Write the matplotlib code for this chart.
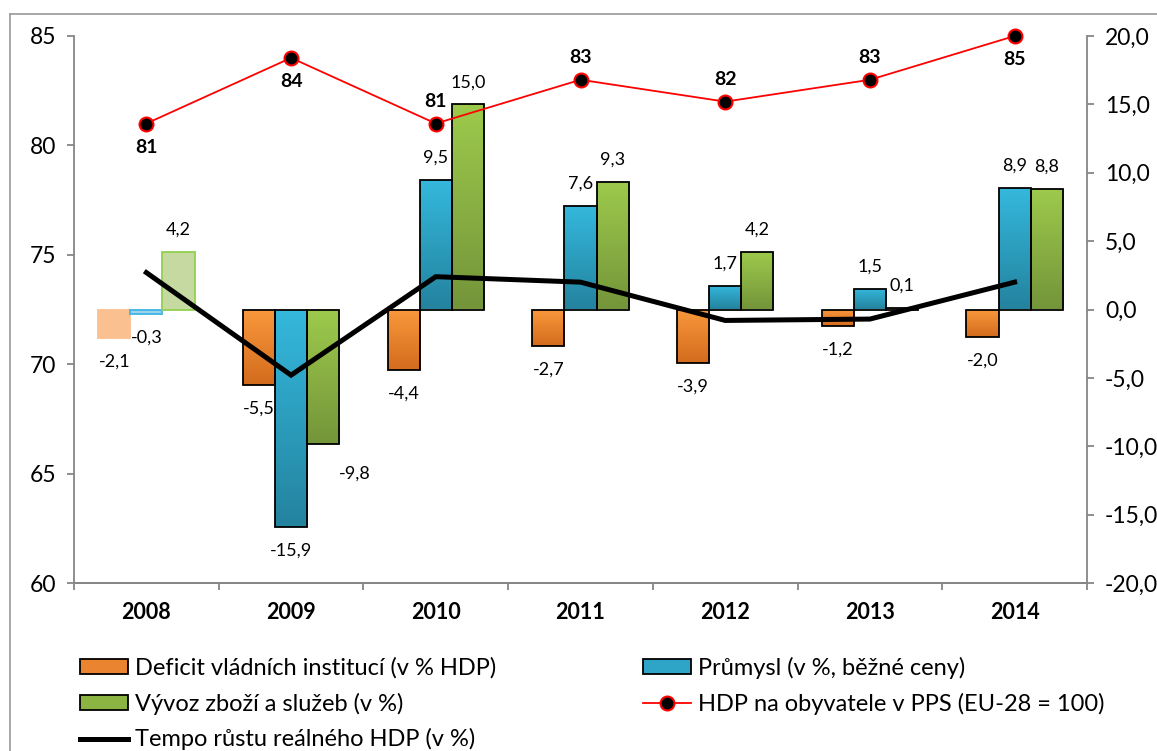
import matplotlib.pyplot as plt
import numpy as np
from matplotlib.colors import LinearSegmentedColormap
from matplotlib.lines import Line2D
from matplotlib.patches import Patch
from matplotlib.ticker import FuncFormatter

plt.rcParams['font.family'] = ['Lato', 'DejaVu Sans']

# data
years = ['2008', '2009', '2010', '2011', '2012', '2013', '2014']
deficit = [-2.1, -5.5, -4.4, -2.7, -3.9, -1.2, -2.0]
prumysl = [-0.3, -15.9, 9.5, 7.6, 1.7, 1.5, 8.9]
vyvoz = [4.2, -9.8, 15.0, 9.3, 4.2, 0.1, 8.8]
hdp_pps = [81, 84, 81, 83, 82, 83, 85]
hdp_above = [False, False, True, True, True, True, False]
tempo = [2.7, -4.8, 2.4, 2.0, -0.8, -0.7, 2.0]

names = ['Deficit vládních institucí (v % HDP)', 'Průmysl (v %, běžné ceny)',
         'Vývoz zboží a služeb (v %)', 'HDP na obyvatele v PPS (EU-28 = 100)',
         'Tempo růstu reálného HDP (v %)']

# (top colour, bottom colour) of the gradient, faded fill/edge for 2008
grad_cols = [('#F9983C', '#D36C1E'), ('#34B8DC', '#24839F'), ('#9DCA4C', '#74953A')]
faded = [('#FAC090', '#FAC090'), ('#9DD3EA', '#3DB4E6'), ('#C6D9A0', '#92D050')]
gray = '#868686'

fig = plt.figure(figsize=(11.57, 7.51), dpi=100)
ax = fig.add_axes([74/1157, 1-583/751, (1087-74)/1157, (583-36)/751])
ax2 = ax.twinx()
ax.set_zorder(ax2.get_zorder()+1)
ax.patch.set_visible(False)

x = np.arange(len(years))
w = 0.222
series = [deficit, prumysl, vyvoz]


def grad_bar(axis, xc, h, top, bot):
    b = axis.bar(xc, h, w, color='none', edgecolor='black', linewidth=1.3, zorder=3)[0]
    cm = LinearSegmentedColormap.from_list('g', [top, bot])
    g = np.linspace(0, 1, 64).reshape(-1, 1)
    im = axis.imshow(g, extent=(xc-w/2, xc+w/2, min(0, h), max(0, h)), origin='upper',
                     aspect='auto', cmap=cm, zorder=2, interpolation='bilinear')
    im.set_clip_path(b)


for s, vals in enumerate(series):
    off = (s-1)*w
    for i, v in enumerate(vals):
        xc = x[i]+off
        if i == 0:
            ax2.bar(xc, v, w, color=faded[s][0], edgecolor=faded[s][1], linewidth=1.3, zorder=3)
        else:
            grad_bar(ax2, xc, v, *grad_cols[s])
        lbl = f'{v:.1f}'.replace('.', ',')
        dx, dy = 0, (16 if v > 0 else -17)
        if s == 2 and v < -5:
            dx, dy = 23, -22
        ax2.annotate(lbl, (xc, v), xytext=(dx, dy), textcoords='offset points',
                     ha='center', va='center', fontsize=13, zorder=6)

ax2.plot(x, tempo, color='black', linewidth=3.6, zorder=4, solid_joinstyle='miter')

ax.plot(x, hdp_pps, color='red', linewidth=1.3, marker='o', markersize=10,
        markerfacecolor='black', markeredgecolor='red', markeredgewidth=1.5, zorder=5,
        clip_on=False)
for i, v in enumerate(hdp_pps):
    ax.annotate(str(v), (x[i], v), xytext=(0, 16 if hdp_above[i] else -17),
                textcoords='offset points', ha='center', va='center',
                fontsize=14, fontweight='bold')

ax.set_xlim(-0.5, len(years)-0.5)
ax.set_ylim(60, 85)
ax2.set_ylim(-20, 20)
ax.set_yticks(np.arange(60, 86, 5))
ax2.set_yticks(np.arange(-20, 21, 5))
ax2.yaxis.set_major_formatter(FuncFormatter(lambda v, p: f'{v:.1f}'.replace('.', ',')))
ax.set_xticks(x)
ax.set_xticklabels(years, fontweight='bold', fontsize=15.5)
ax.set_xticks(np.arange(-0.5, len(years), 1), minor=True)
ax.tick_params(axis='x', which='major', length=0, pad=14)
ax.tick_params(axis='x', which='minor', length=5, color=gray, width=1.3)
ax.tick_params(axis='y', length=5, color=gray, width=1.3, labelsize=16.5, pad=8)
ax2.tick_params(axis='y', length=5, color=gray, width=1.3, labelsize=16.5, pad=8)

for a in (ax, ax2):
    a.spines['top'].set_visible(False)
    for sp in ('left', 'right', 'bottom'):
        a.spines[sp].set_color(gray)
        a.spines[sp].set_linewidth(1.3)
ax.spines['right'].set_visible(False)
ax2.spines['left'].set_visible(False)

handles = [Patch(facecolor='#EA8430', edgecolor='black', linewidth=1.3),
           Patch(facecolor='#8BB443', edgecolor='black', linewidth=1.3),
           Line2D([], [], color='black', linewidth=3.6),
           Patch(facecolor='#2EA5C7', edgecolor='black', linewidth=1.3),
           Line2D([], [], color='red', linewidth=1.3, marker='o', markersize=10,
                  markerfacecolor='black', markeredgecolor='red', markeredgewidth=1.5)]
labels = [names[0], names[2], names[4], names[1], names[3]]
fig.legend(handles, labels, ncol=2, loc='upper left', bbox_to_anchor=(68/1157, 1-645/751),
           frameon=False, fontsize=17, handlelength=2.05, handleheight=0.6,
           handletextpad=0.3, columnspacing=6.2, labelspacing=0.58, borderpad=0)

# outer frame
fig.add_artist(Line2D([10/1157, 1], [1-14/751, 1-14/751], color='#A0A0A0', linewidth=1.3))
fig.add_artist(Line2D([10/1157, 10/1157], [0, 1-14/751], color='#A0A0A0', linewidth=1.3))

fig.savefig('out.png', dpi=100)
